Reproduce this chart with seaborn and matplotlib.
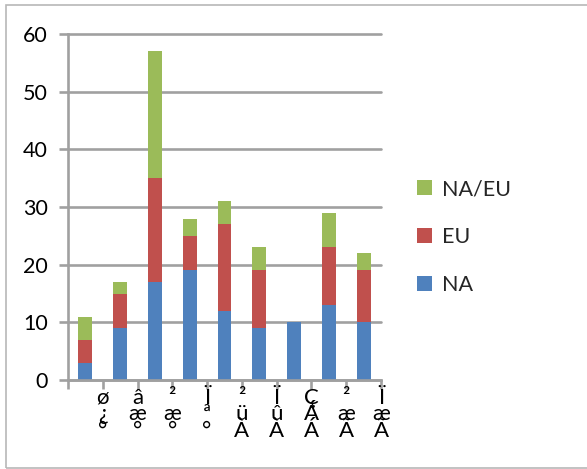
import numpy as np
import pandas as pd
import matplotlib
matplotlib.use("Agg")
import matplotlib.pyplot as plt
from matplotlib.patches import Rectangle, Patch
import seaborn as sns

# Category labels (stacked characters, one per line)
categories = ["ø\n¿\n°", "â\næ\n°", "²\næ\n°", "Ï\nª\n°", "²\nü\nÀ",
              "Ï\nû\nÀ", "Ç\nÁ\nÁ", "²\næ\nÃ", "Ï\næ\nÃ"]
na_vals = [3, 9, 17, 19, 12, 9, 10, 13, 10]
eu_vals = [4, 6, 18, 6, 15, 10, 0, 10, 9]
naeu_vals = [4, 2, 22, 3, 4, 4, 0, 6, 3]
series_names = ["NA", "EU", "NA/EU"]
y_ticks = [0, 10, 20, 30, 40, 50, 60]

colors = {"NA": "#4F81BD", "EU": "#C0504D", "NA/EU": "#9BBB59"}
grid_gray = "#A0A0A0"

sns.set_theme(style="white")
plt.rcParams["font.family"] = ["Lato", "DejaVu Sans"]

df = pd.DataFrame({"cat": categories, "NA": na_vals, "EU": eu_vals, "NA/EU": naeu_vals})
df["cum_NA"] = df["NA"]
df["cum_EU"] = df["cum_NA"] + df["EU"]
df["cum_NAEU"] = df["cum_EU"] + df["NA/EU"]

fig = plt.figure(figsize=(5.87, 4.69), dpi=100)
ax = fig.add_axes([68 / 587, 1 - 380 / 469, (381 - 68) / 587, (380 - 34) / 469])

# Gridlines behind bars
for t in y_ticks:
    ax.axhline(t, color=grid_gray, lw=1.9, zorder=0, clip_on=False)

# Stacked bars drawn as overlapping cumulative totals
for col, name in [("cum_NAEU", "NA/EU"), ("cum_EU", "EU"), ("cum_NA", "NA")]:
    sns.barplot(data=df, x="cat", y=col, order=categories, color=colors[name],
                width=0.4, saturation=1, ax=ax, zorder=2, linewidth=0)

ax.set_xlim(-0.5, 8.5)
ax.set_ylim(0, 60)
ax.set_yticks(y_ticks)
ax.set_yticklabels([str(t) for t in y_ticks])
ax.set_xlabel("")
ax.set_ylabel("")

# Category ticks sit on the boundaries; labels are shifted to the right boundary
bounds = np.arange(-0.5, 9, 1)
ax.set_xticks(bounds)
ax.set_xticklabels([""] + categories, linespacing=0.78, va="top")

for s in ["top", "right"]:
    ax.spines[s].set_visible(False)
for s in ["left", "bottom"]:
    ax.spines[s].set_color(grid_gray)
    ax.spines[s].set_linewidth(1.9)

ax.tick_params(axis="y", direction="out", length=6.5, width=1.9, color=grid_gray,
               labelsize=15.5, pad=8, labelcolor="black", left=True)
ax.tick_params(axis="x", direction="out", length=6.5, width=1.9, color=grid_gray,
               labelsize=16, pad=-1, labelcolor="black", bottom=True)

handles = [Patch(facecolor=colors[n], edgecolor="none") for n in ["NA/EU", "EU", "NA"]]
fig.legend(handles, ["NA/EU", "EU", "NA"], loc="center left",
           bbox_to_anchor=(417 / 587, 1 - 237 / 469), frameon=False, fontsize=15.5,
           handlelength=0.7, handleheight=0.7, handletextpad=0.45,
           labelspacing=1.3, borderpad=0, borderaxespad=0)

# Chart area outline
fig.patches.append(Rectangle((6 / 587, 1 / 469), 1.2, 1 - 6 / 469, transform=fig.transFigure,
                             fill=False, edgecolor="#B8B8B8", lw=1.2))

fig.savefig("out.png", dpi=100)
